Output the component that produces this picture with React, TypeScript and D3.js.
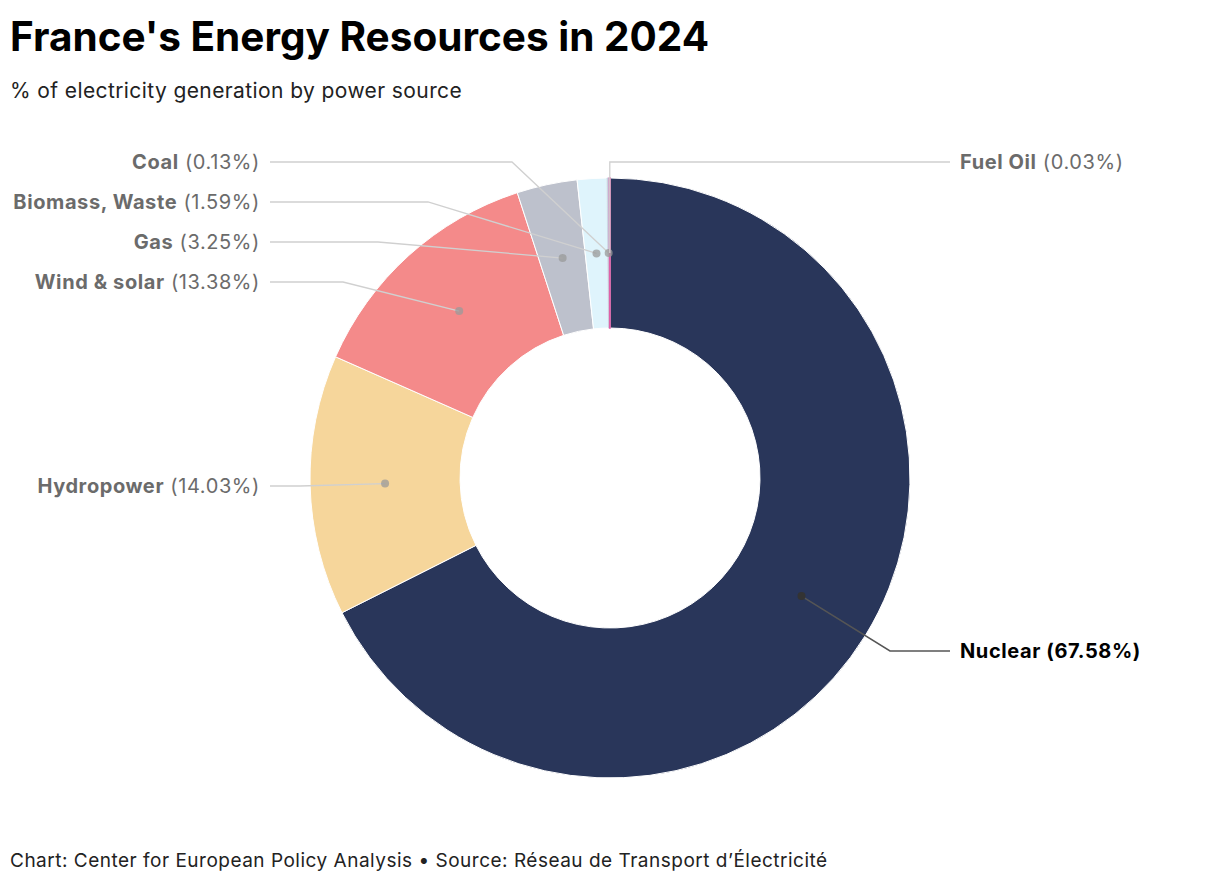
import * as d3 from "d3";

// data
const sources = ["Nuclear", "Hydropower", "Wind & solar", "Gas", "Biomass, Waste", "Coal", "Fuel Oil"];
const shares = [67.58, 14.03, 13.38, 3.25, 1.59, 0.13, 0.03];
const colors = ["#29365a", "#f6d69b", "#f48a8a", "#bdc1cc", "#dff4fc", "#c7d3e0", "#e060a8"];

// label placement (text y, elbow x) per source
const labelY = [651, 486, 282, 242, 202, 162, 162];
const elbowX = [890, 300, 343, 378, 428, 512, 610];

const W = 1220;
const H = 884;
const cx = 610;
const cy = 478;
const rOuter = 300;
const rInner = 150;
const font = "Inter, 'Open Sans', sans-serif";

const App = () => {
  const rows = sources.map((name, i) => ({ name, value: shares[i], color: colors[i], i }));
  const pie = d3
    .pie<any>()
    .sort(null)
    .value((d) => d.value);
  const arcs = pie(rows);
  const arc = d3.arc<any>().innerRadius(rInner).outerRadius(rOuter);
  const mid = d3.arc<any>().innerRadius(225).outerRadius(225);

  return (
    <svg width={W} height={H} style={{ position: "absolute", left: 0, top: 0 }} fontFamily={font}>
      <rect width={W} height={H} fill="#fff" />
      <text x={10} y={51} fontSize={40.5} fontWeight={700} fill="#000">
        France's Energy Resources in 2024
      </text>
      <text x={10} y={98} fontSize={21} fill="#222" letterSpacing={0.4}>
        % of electricity generation by power source
      </text>

      <g transform={`translate(${cx},${cy})`}>
        {arcs.map((a) => {
          const tiny = a.data.value < 0.5;
          return (
            <path
              key={a.data.name}
              d={arc(a) || ""}
              fill={a.data.color}
              stroke={tiny ? a.data.color : "#fff"}
              strokeWidth={tiny ? (a.data.value < 0.1 ? 1.6 : 0.8) : 1}
            />
          );
        })}
      </g>

      {arcs.map((a) => {
        const i = a.data.i;
        const [mx, my] = mid.centroid(a);
        const px = cx + mx;
        const py = cy + my;
        const ly = labelY[i];
        const ex = elbowX[i];
        const isMain = i === 0;
        const isRight = i === 0 || i === 6;
        const stroke = isMain ? "#555" : "#d0d0d0";
        let pts: [number, number][];
        let tx: number;
        if (i === 6) {
          pts = [
            [px, py],
            [px, ly],
            [950, ly],
          ];
          tx = 960;
        } else if (isRight) {
          pts = [
            [px, py],
            [ex, ly],
            [950, ly],
          ];
          tx = 960;
        } else {
          pts = [
            [px, py],
            [ex, ly],
            [270, ly],
          ];
          tx = 260;
        }
        const line = d3.line()(pts) || "";
        return (
          <g key={a.data.name}>
            <path d={line} fill="none" stroke={stroke} strokeWidth={isMain ? 1.5 : 1.3} />
            {i !== 6 && <circle cx={px} cy={py} r={4} fill={isMain ? "#333" : "#999"} fillOpacity={isMain ? 1 : 0.75} />}
            <text
              x={tx}
              y={ly + 7}
              fontSize={20}
              letterSpacing={0.6}
              textAnchor={isRight ? "start" : "end"}
              fill={isMain ? "#000" : "#6b6b6b"}
            >
              <tspan fontWeight={700}>{a.data.name}</tspan>
              <tspan fontWeight={isMain ? 700 : 400}>{` (${d3.format(".2f")(a.data.value)}%)`}</tspan>
            </text>
          </g>
        );
      })}

      <text x={10} y={867} fontSize={19} fill="#222" letterSpacing={0.5}>
        Chart: Center for European Policy Analysis • Source: Réseau de Transport d’Électricité
      </text>
    </svg>
  );
};

export default App;
